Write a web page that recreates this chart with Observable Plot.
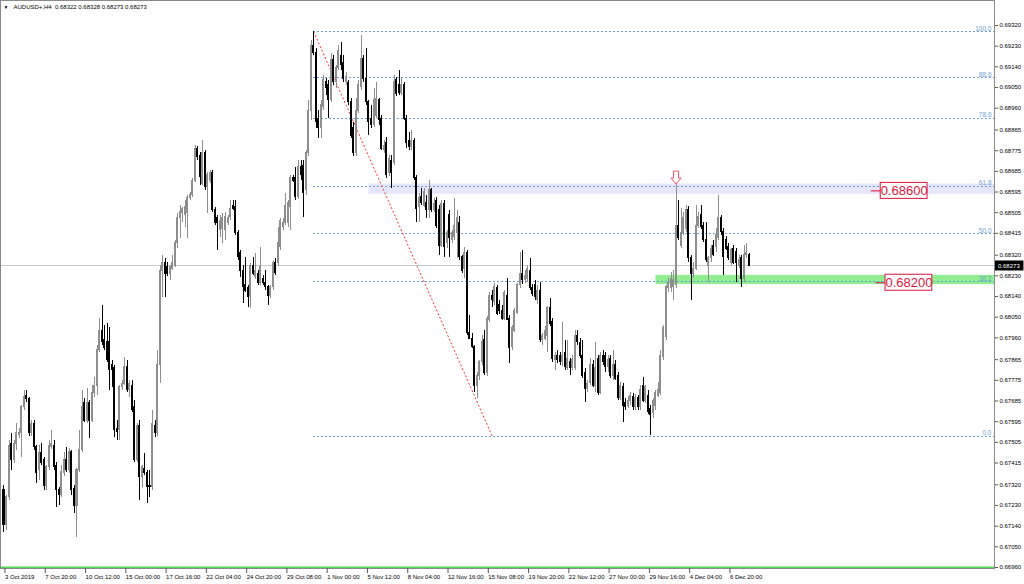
<!DOCTYPE html>
<html><head><meta charset="utf-8">
<script src="https://cdn.jsdelivr.net/npm/d3@7"></script>
<script src="https://cdn.jsdelivr.net/npm/@observablehq/plot@0.6"></script>
<style>
html,body{margin:0;padding:0;background:#fff;}
#chart{width:1024px;height:584px;overflow:hidden;}
</style></head><body><div id="chart"></div>
<script>
const symbolName = "AUDUSD+,H4";

const opens = [
0.67296,0.67143,0.67266,0.67500,0.67426,0.67500,0.67535,0.67544,0.67657,0.67709,
0.67692,0.67544,0.67587,0.67483,0.67383,0.67457,0.67426,0.67317,0.67396,0.67483,
0.67491,0.67404,0.67296,0.67274,0.67370,0.67426,0.67383,0.67461,0.67304,0.67230,
0.67383,0.67470,0.67678,0.67600,0.67678,0.67600,0.67718,0.67752,0.67905,0.67992,
0.67949,0.67940,0.67940,0.67840,0.67827,0.67565,0.67557,0.67744,0.67761,0.67832,
0.67731,0.67752,0.67657,0.67426,0.67578,0.67353,0.67391,0.67370,0.67317,0.67309,
0.67578,0.67544,0.67840,0.68253,0.68288,0.68267,0.68240,0.68262,0.68275,0.68371,
0.68480,0.68502,0.68493,0.68502,0.68567,0.68580,0.68645,0.68784,0.68754,0.68632,
0.68767,0.68615,0.68645,0.68676,0.68515,0.68480,0.68428,0.68436,0.68428,0.68458,
0.68485,0.68536,0.68528,0.68415,0.68328,0.68253,0.68188,0.68175,0.68136,0.68275,
0.68223,0.68240,0.68201,0.68218,0.68201,0.68180,0.68144,0.68180,0.68288,0.68284,
0.68354,0.68441,0.68462,0.68462,0.68528,0.68654,0.68654,0.68572,0.68702,0.68710,
0.68602,0.68763,0.68950,0.69233,
0.69202,0.68915,0.68872,0.68964,0.69072,0.69059,0.68994,0.69168,0.69072,0.69133,
0.69189,0.69159,0.69072,0.69068,0.68985,0.68872,0.68763,0.68950,0.69051,0.69176,
0.69089,0.68985,0.68915,
0.68885,0.68928,0.68994,0.68915,0.68776,0.68810,0.68676,0.68732,0.68723,0.69081,
0.69059,0.69028,0.69059,0.68915,0.68819,0.68789,0.68819,0.68654,0.68528,0.68572,
0.68536,0.68549,0.68515,0.68602,0.68515,0.68558,0.68515,0.68362,0.68545,0.68371,
0.68493,0.68384,0.68398,0.68415,0.68458,0.68311,0.68262,
0.68328,
0.67983,0.67957,0.67919,0.67752,0.67796,0.67853,0.67949,0.67809,0.68036,0.68144,0.68114,0.68175,0.68101,
0.68079,
0.68044,0.68144,0.68044,0.67919,0.67992,0.68070,0.68188,0.68240,
0.68210,
0.68218,0.68253,
0.68175,
0.68188,0.68123,0.68166,0.67949,0.67957,0.67970,0.68088,0.68027,0.67862,
0.67879,
0.67879,0.67853,0.67892,0.67827,0.67853,
0.67827,
0.67827,0.67970,0.67936,0.67883,0.67809,0.67739,0.67765,0.67840,0.67752,0.67870,0.67722,
0.67879,
0.67879,0.67832,0.67870,0.67796,0.67840,0.67792,0.67696,0.67744,0.67678,0.67665,
0.67687,0.67701,0.67657,0.67696,0.67657,0.67752,0.67687,0.67709,0.67652,0.67631,
0.67665,0.67709,0.67722,0.67875,0.67962,0.68175,0.68175,0.68180,0.68188,0.68449,
0.68362,0.68415,0.68436,0.68515,0.68306,0.68240,0.68262,0.68449,0.68493,0.68449,
0.68384,0.68275,0.68306,0.68362,0.68354,0.68393,0.68480,0.68419,0.68384,0.68354,
0.68288,0.68349,0.68332,0.68275,0.68306,0.68218,0.68319,0.68322
];

const highs = [
0.67317,0.67274,0.67513,0.67544,0.67513,0.67587,0.67565,0.67665,0.67731,0.67731,
0.67701,0.67600,0.67600,0.67491,0.67491,0.67500,0.67440,0.67404,0.67513,0.67557,
0.67513,0.67417,0.67309,0.67404,0.67461,0.67483,0.67478,0.67470,0.67317,0.67391,
0.67557,0.67731,0.67696,0.67739,0.67687,0.67752,0.67788,0.67927,0.68044,0.68101,
0.68014,0.68023,0.68006,0.67862,0.67840,0.67600,0.67752,0.67774,0.67875,0.67862,
0.67774,0.67774,0.67687,0.67587,0.67600,0.67404,0.67457,0.67383,0.67383,0.67644,
0.67600,0.67905,0.68275,0.68319,0.68306,0.68288,0.68275,0.68319,0.68384,0.68502,
0.68536,0.68528,0.68558,0.68580,0.68593,0.68654,0.68797,0.68793,0.68767,0.68819,
0.68776,0.68680,0.68689,0.68689,0.68528,0.68493,0.68493,0.68502,0.68506,0.68493,
0.68558,0.68558,0.68558,0.68428,0.68341,0.68275,0.68311,0.68188,0.68284,0.68311,
0.68328,0.68253,0.68354,0.68231,0.68253,0.68188,0.68188,0.68297,0.68306,0.68441,
0.68480,0.68480,0.68589,0.68558,0.68667,0.68667,0.68702,0.68732,0.68732,0.68732,
0.68776,0.68994,0.69255,0.69294,
0.69220,0.68950,0.68994,0.69102,0.69089,0.69081,0.69198,0.69189,0.69146,0.69233,
0.69246,0.69189,0.69115,0.69081,0.69002,0.68898,0.69002,0.69081,0.69276,0.69189,
0.69220,0.68994,0.68972,
0.69046,0.69072,0.69002,0.68928,0.68819,0.68833,0.68754,0.68754,0.69102,0.69094,
0.69124,0.69089,0.69072,0.68928,0.68854,0.68863,0.68828,0.68667,0.68589,0.68610,
0.68610,0.68580,0.68645,0.68610,0.68567,0.68572,0.68536,0.68558,0.68558,0.68428,
0.68515,0.68428,0.68567,0.68515,0.68489,0.68319,0.68354,
0.68341,
0.68057,0.67979,0.67927,0.67809,0.67862,0.67970,0.67992,0.68053,0.68157,0.68166,0.68197,0.68188,0.68123,
0.68101,
0.68166,0.68218,0.68057,0.68014,0.68088,0.68197,0.68332,0.68341,
0.68253,
0.68275,0.68306,
0.68193,
0.68210,0.68188,0.68201,0.67979,0.68010,0.68097,0.68131,0.68044,0.67896,
0.67905,
0.67896,0.68027,0.67949,0.67949,0.67870,
0.67883,
0.67992,0.67992,0.67957,0.67949,0.67827,0.67774,0.67870,0.67862,0.67940,0.67883,0.67896,
0.67905,
0.67896,0.67883,0.67883,0.67905,0.67862,0.67809,0.67765,0.67761,0.67696,0.67705,
0.67722,0.67718,0.67714,0.67709,0.67752,0.67788,0.67752,0.67731,0.67665,0.67696,
0.67731,0.67765,0.67905,0.68014,0.68188,0.68218,0.68244,0.68253,0.68623,0.68558,
0.68523,0.68506,0.68536,0.68532,0.68319,0.68288,0.68536,0.68506,0.68536,0.68462,
0.68462,0.68315,0.68362,0.68384,0.68436,0.68580,0.68493,0.68436,0.68402,0.68371,
0.68349,0.68362,0.68349,0.68319,0.68319,0.68362,0.68371,0.68328
];

const lows = [
0.67112,0.67121,0.67252,0.67383,0.67413,0.67470,0.67522,0.67440,0.67644,0.67678,
0.67531,0.67531,0.67470,0.67326,0.67339,0.67404,0.67296,0.67296,0.67383,0.67474,
0.67383,0.67222,0.67230,0.67266,0.67357,0.67374,0.67370,0.67274,0.67195,0.67091,
0.67374,0.67461,0.67591,0.67587,0.67522,0.67591,0.67701,0.67709,0.67896,0.67927,
0.67905,0.67853,0.67731,0.67744,0.67527,0.67513,0.67513,0.67731,0.67752,0.67722,
0.67701,0.67635,0.67417,0.67417,0.67252,0.67309,0.67361,0.67239,0.67266,0.67296,
0.67527,0.67531,0.67761,0.68136,0.68136,0.68227,0.68210,0.68253,0.68267,0.68349,
0.68393,0.68462,0.68441,0.68393,0.68558,0.68572,0.68636,0.68732,0.68623,0.68623,
0.68602,0.68502,0.68632,0.68506,0.68449,0.68341,0.68398,0.68371,0.68384,0.68449,
0.68471,0.68515,0.68406,0.68297,0.68223,0.68110,0.68157,0.68093,0.68088,0.68231,
0.68214,0.68188,0.68188,0.68188,0.68166,0.68101,0.68131,0.68166,0.68231,0.68271,
0.68341,0.68428,0.68449,0.68441,0.68428,0.68636,0.68558,0.68563,0.68645,0.68485,
0.68580,0.68750,0.68907,0.69189,
0.68872,0.68828,0.68828,0.68950,0.69015,0.68915,0.68985,0.69059,0.69046,0.69124,
0.69124,0.69072,0.69059,0.68972,0.68828,0.68750,0.68750,0.68937,0.69037,0.69072,
0.68972,0.68841,0.68872,
0.68877,0.68915,0.68885,0.68776,0.68763,0.68654,0.68663,0.68610,0.68710,0.69011,
0.69015,0.69015,0.68907,0.68784,0.68776,0.68776,0.68645,0.68462,0.68462,0.68536,
0.68528,0.68480,0.68480,0.68506,0.68506,0.68436,0.68319,0.68354,0.68311,0.68349,
0.68311,0.68371,0.68384,0.68306,0.68297,0.68240,0.68218,
0.67970,
0.67957,0.67914,0.67722,0.67696,0.67774,0.67840,0.67796,0.67792,0.68027,0.68093,0.68101,0.68057,0.68062,
0.68036,
0.68036,0.68036,0.67849,0.67905,0.67983,0.68062,0.68175,0.68193,
0.68197,
0.68201,0.68166,
0.68140,
0.68123,0.68106,0.67940,0.67927,0.67949,0.67896,0.68010,0.67853,0.67818,
0.67849,
0.67840,0.67836,0.67818,0.67818,0.67796,
0.67818,
0.67818,0.67927,0.67870,0.67783,0.67678,0.67722,0.67752,0.67744,0.67722,0.67709,0.67714,
0.67840,
0.67809,0.67809,0.67783,0.67774,0.67774,0.67687,0.67687,0.67591,0.67644,0.67652,
0.67665,0.67644,0.67644,0.67644,0.67644,0.67678,0.67674,0.67627,0.67535,0.67609,
0.67644,0.67701,0.67709,0.67862,0.67949,0.68157,0.68157,0.68123,0.68175,0.68384,
0.68349,0.68406,0.68419,0.68288,0.68123,0.68218,0.68253,0.68436,0.68432,0.68375,
0.68288,0.68201,0.68288,0.68315,0.68332,0.68384,0.68406,0.68231,0.68341,0.68297,
0.68275,0.68280,0.68201,0.68262,0.68180,0.68201,0.68306,0.68273
];

const closes = [
0.67143,0.67266,0.67491,0.67426,0.67500,0.67544,0.67544,0.67657,0.67701,0.67692,
0.67544,0.67587,0.67483,0.67370,0.67457,0.67413,0.67317,0.67396,0.67491,0.67500,
0.67396,0.67296,0.67274,0.67374,0.67426,0.67383,0.67461,0.67296,0.67230,0.67383,
0.67470,0.67657,0.67600,0.67678,0.67600,0.67718,0.67752,0.67905,0.67992,0.67940,
0.67914,0.67862,0.67818,0.67818,0.67557,0.67548,0.67744,0.67761,0.67832,0.67731,
0.67761,0.67644,0.67426,0.67578,0.67353,0.67396,0.67370,0.67309,0.67309,0.67587,
0.67544,0.67840,0.68253,0.68288,0.68240,0.68240,0.68267,0.68288,0.68371,0.68480,
0.68506,0.68523,0.68528,0.68567,0.68580,0.68645,0.68784,0.68746,0.68659,0.68767,
0.68615,0.68667,0.68676,0.68515,0.68458,0.68458,0.68471,0.68480,0.68485,0.68480,
0.68523,0.68523,0.68415,0.68311,0.68253,0.68180,0.68166,0.68136,0.68275,0.68240,
0.68253,0.68201,0.68267,0.68197,0.68180,0.68144,0.68180,0.68284,0.68244,0.68375,
0.68471,0.68462,0.68536,0.68549,0.68654,0.68645,0.68572,0.68702,0.68667,0.68589,
0.68763,0.68950,0.69233,0.69202,
0.68898,0.68872,0.68972,0.69081,0.69046,0.68994,0.69168,0.69072,0.69133,0.69211,
0.69146,0.69089,0.69094,0.68985,0.68841,0.68763,0.68950,0.69059,0.69176,0.69089,
0.68985,0.68898,0.68885,
0.68994,0.69002,0.68907,0.68784,0.68797,0.68667,0.68741,0.68676,0.69072,0.69024,
0.69028,0.69059,0.68915,0.68810,0.68789,0.68819,0.68654,0.68523,0.68567,0.68549,
0.68593,0.68515,0.68602,0.68515,0.68545,0.68449,0.68362,0.68545,0.68354,0.68415,
0.68393,0.68415,0.68449,0.68480,0.68311,0.68253,0.68328,
0.67983,
0.67957,0.67919,0.67752,0.67796,0.67853,0.67940,0.67809,0.68044,0.68144,0.68123,0.68180,0.68066,0.68079,
0.68044,
0.68157,0.68036,0.67914,0.68001,0.68079,0.68188,0.68240,0.68210,
0.68231,
0.68262,0.68175,
0.68153,
0.68136,0.68166,0.67949,0.67966,0.67992,0.68088,0.68019,0.67870,0.67879,
0.67862,
0.67853,0.67883,0.67832,0.67870,0.67827,
0.67862,
0.67970,0.67940,0.67883,0.67796,0.67739,0.67761,0.67840,0.67752,0.67827,0.67722,0.67879,
0.67853,
0.67832,0.67862,0.67796,0.67840,0.67783,0.67696,0.67752,0.67665,0.67657,0.67687,
0.67709,0.67657,0.67696,0.67657,0.67731,0.67687,0.67744,0.67635,0.67622,0.67687,
0.67722,0.67731,0.67883,0.68001,0.68180,0.68201,0.68218,0.68210,0.68449,0.68393,
0.68415,0.68480,0.68515,0.68306,0.68240,0.68262,0.68449,0.68485,0.68441,0.68384,
0.68297,0.68306,0.68349,0.68319,0.68406,0.68480,0.68419,0.68311,0.68349,0.68306,
0.68341,0.68288,0.68288,0.68297,0.68218,0.68319,0.68328,0.68273
];

// time axis: bar index of each label and the label text
const xTickBars = [0,16,32,48,64,80,96,112,128,144,160,176,192,208,224,240,256,272,288];
const xTickLabels = ["3 Oct 2019","7 Oct 20:00","10 Oct 12:00","15 Oct 00:00","17 Oct 16:00",
  "22 Oct 04:00","24 Oct 20:00","29 Oct 08:00","1 Nov 00:00","5 Nov 12:00","8 Nov 04:00",
  "12 Nov 16:00","15 Nov 08:00","19 Nov 20:00","22 Nov 12:00","27 Nov 00:00","29 Nov 16:00",
  "4 Dec 04:00","6 Dec 20:00"];
const yTicks = [0.69320,0.69230,0.69140,0.69050,0.68960,0.68865,0.68775,0.68685,0.68595,
  0.68505,0.68415,0.68320,0.68230,0.68140,0.68050,0.67960,0.67865,0.67775,0.67685,0.67595,
  0.67505,0.67415,0.67320,0.67230,0.67140,0.67050,0.66960];

// Fibonacci retracement object
const fibHigh = 0.69294, fibLow = 0.67531;
const fibAnchorBars = [123, 194];
const fibRatios = [0, 0.382, 0.5, 0.618, 0.786, 0.886, 1];
const fibLabels = ["0.0","38.2","50.0","61.8","78.6","88.6","100.0"];

// zones, price labels, markers
const zoneTop = [0.68630, 0.68232];
const zoneBottom = [0.68585, 0.68192];
const zoneStartBar = [145, 259];
const zoneColors = ["#e6e6fa", "#90ee90"];
const priceLabelValues = [0.68600, 0.68200];
const priceLabelBars = [348.3, 350.2];
const arrowBar = 267;
const bottomLinePrice = 0.66960;

// ---------- build ----------
const N = closes.length;
const bars = closes.map((c, i) => ({i, o: opens[i], h: highs[i], l: lows[i], c}));
const BULL = "#8e8e8e", BEAR = "#000000";
const col = d => d.c >= d.o ? BULL : BEAR;
const X0 = -1.39, X1 = 393.5;
const PXX = 2.5172;       // pixels per bar
const PXP = 0.00004354;   // price per pixel
const fmt5 = d3.format(".5f");
const tickMap = new Map(xTickBars.map((b, k) => [b, xTickLabels[k]]));
const fibs = fibRatios.map((r, k) => ({p: fibLow + (fibHigh - fibLow) * r, label: fibLabels[k]}));
const zones = zoneTop.map((t, k) => ({t, b: zoneBottom[k], s: zoneStartBar[k], fill: zoneColors[k]}));
const plabels = priceLabelValues.map((p, k) => ({p, b: priceLabelBars[k]}));
const last = bars[N - 1];
const titleText = `${symbolName}  ${fmt5(last.o)} ${fmt5(last.h)} ${fmt5(last.l)} ${fmt5(last.c)}`;
const FONT = "'Liberation Sans', Arial, sans-serif";

// hollow down-arrow outline (pixel offsets from the tip) placed above the marked bar
const arrowShape = [[0,0],[-5,6],[-2.5,6],[-2.5,13],[2.5,13],[2.5,6],[5,6],[0,0]];
const ab = bars[arrowBar];
const arrowPts = arrowShape.map(([dx, dy]) => ({x: ab.i + dx / PXX, y: ab.h + (1.5 + dy) * PXP}));

const chart = Plot.plot({
  width: 1024, height: 584,
  marginLeft: 0, marginRight: 30, marginTop: 0, marginBottom: 16,
  style: {fontFamily: FONT, fontSize: "6px", background: "#fff", overflow: "visible"},
  x: {domain: [X0, X1], axis: null},
  y: {domain: [0.669557, 0.69429], axis: null},
  marks: [
    Plot.rect(zones, {x1: "s", x2: X1, y1: "b", y2: "t", fill: "fill"}),
    Plot.ruleY(fibs, {y: "p", x1: fibAnchorBars[0], x2: X1, stroke: "#6d9fd8", strokeDasharray: "2,2", strokeWidth: 1, shapeRendering: "crispEdges"}),
    Plot.link([0], {x1: fibAnchorBars[0], y1: fibHigh, x2: fibAnchorBars[1], y2: fibLow, stroke: "#ff3030", strokeDasharray: "2,2", strokeWidth: 1}),
    Plot.ruleY([last.c], {stroke: "#c8c8c8", strokeWidth: 1, shapeRendering: "crispEdges"}),
    Plot.ruleX(bars, {x: "i", y1: "l", y2: "h", stroke: col, strokeWidth: 1, shapeRendering: "crispEdges"}),
    Plot.rect(bars, {x1: d => d.i - 0.4, x2: d => d.i + 0.4, y1: "o", y2: "c", fill: col, insetTop: -0.5, insetBottom: -0.5, shapeRendering: "crispEdges"}),
    Plot.text(fibs, {frameAnchor: "right", y: "p", text: "label", textAnchor: "end", lineAnchor: "bottom", dx: -3, dy: -1, fill: "#6f9ed6", fontSize: 6.5}),
    Plot.ruleY([bottomLinePrice], {stroke: "#55d655", strokeWidth: 2}),
    Plot.frame({stroke: "#8a8a8a"}),
    Plot.axisY(yTicks, {anchor: "right", tickSize: 3, tickPadding: 2, tickFormat: fmt5, fill: "#000", stroke: "#555", fontSize: 6}),
    Plot.axisX(xTickBars, {anchor: "bottom", tickSize: 5, tickPadding: 1, tickFormat: b => tickMap.get(b), textAnchor: "start", dx: 1, fill: "#000", stroke: "#555", fontSize: 6}),
    // current price marker on the price scale
    Plot.rect([last.c], {x1: 393.9, x2: 405.2, y1: d => d - 5 * PXP, y2: d => d + 5 * PXP, fill: "#000"}),
    Plot.text([last.c], {x: 394.9, y: d => d, text: d => fmt5(d), textAnchor: "start", fill: "#fff", fontSize: 6}),
    // price labels
    Plot.link(plabels, {x1: d => d.b - 4, x2: "b", y1: "p", y2: "p", stroke: "#dc143c", strokeWidth: 1}),
    Plot.rect(plabels, {x1: "b", x2: d => d.b + 18.6, y1: d => d.p - 8 * PXP, y2: d => d.p + 8 * PXP, fill: "#fff", stroke: "#dc143c", strokeWidth: 1}),
    Plot.text(plabels, {x: d => d.b + 9.3, y: "p", text: d => fmt5(d.p), fill: "#dc143c", fontSize: 13, fontFamily: FONT}),
    // hollow arrow above the spike
    Plot.line(arrowPts, {x: "x", y: "y", stroke: "#f0506e", strokeWidth: 1, fill: "#fff"}),
    // title
    Plot.text([0], {frameAnchor: "top-left", text: () => "\u25BC", dx: 3, dy: 5, fontSize: 5, textAnchor: "start", lineAnchor: "top", fill: "#000"}),
    Plot.text([0], {frameAnchor: "top-left", text: () => titleText, dx: 13, dy: 4, fontSize: 6, textAnchor: "start", lineAnchor: "top", fill: "#000"})
  ]
});
document.getElementById("chart").appendChild(chart);
</script>
</body></html>
